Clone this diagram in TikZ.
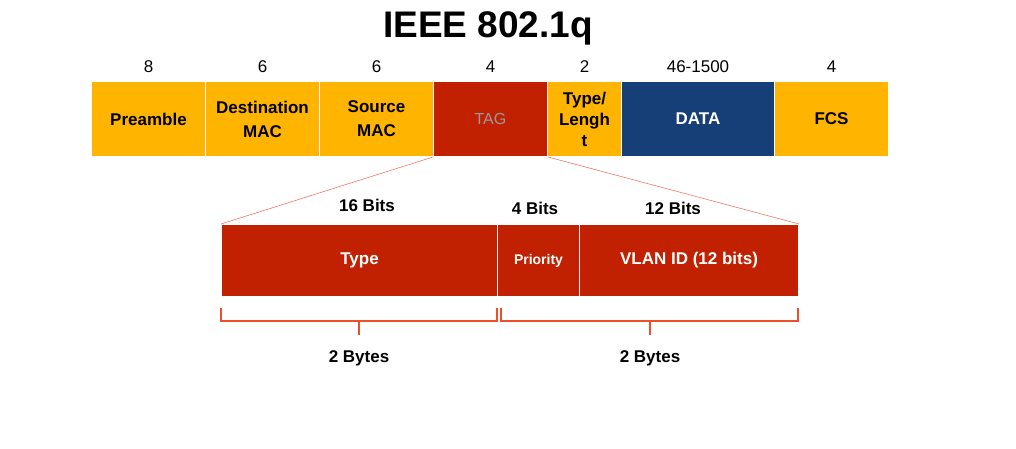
\documentclass[tikz,border=0pt]{standalone}
\usepackage{fontspec}
\setmainfont{Liberation Sans}
\definecolor{amber}{RGB}{255,181,0}
\definecolor{tagred}{RGB}{193,33,0}
\definecolor{navy}{RGB}{22,63,120}
\definecolor{bracered}{RGB}{238,78,40}
\definecolor{zoomline}{RGB}{238,120,110}
\begin{document}
\begin{tikzpicture}[x=1pt,y=-1pt,
  field/.style={draw=white,line width=1pt,minimum height=75pt,inner sep=0pt,align=center,
    font=\bfseries\fontsize{17}{21}\selectfont,anchor=north west},
  subfield/.style={draw=white,line width=1pt,minimum height=72pt,inner sep=0pt,align=center,
    fill=tagred,text=white,font=\bfseries\fontsize{17}{17}\selectfont,anchor=north west},
  size/.style={font=\fontsize{17}{17}\selectfont},
  bits/.style={font=\bfseries\fontsize{17}{17}\selectfont},
  brace/.style={draw=bracered,line width=1.4pt},
  zoom/.style={draw=zoomline,line width=0.6pt}]
\useasboundingbox (0,0) rectangle (1016,449);
\fill[white] (0,0) rectangle (1016,449);

% title
\node (title) at (488,28) {\bfseries\fontsize{37}{37}\selectfont IEEE 802.1q};

% Ethernet frame fields
\node[field,fill=amber,minimum width=114pt] (pre) at (91,81) {Preamble};
\node[field,fill=amber,minimum width=114pt] (dst) at (205,81) {Destination\\[3pt]MAC};
\node[field,fill=amber,minimum width=114pt] (src) at (319,81) {Source\\[3pt]MAC};
\node[field,fill=tagred,minimum width=114pt,text=black!40,font=\fontsize{16}{16}\selectfont] (tag) at (433,81) {TAG};
\node[field,fill=amber,minimum width=74pt] (len) at (547,81) {Type/\\Lengh\\t};
\node[field,fill=navy,minimum width=153pt,text=white] (data) at (621,81) {DATA};
\node[field,fill=amber,minimum width=114pt] (fcs) at (774,81) {FCS};

% field sizes in bytes
\node[size] (s1) at (pre.north |- 0,67) {8};
\node[size] (s2) at (dst.north |- 0,67) {6};
\node[size] (s3) at (src.north |- 0,67) {6};
\node[size] (s4) at (tag.north |- 0,67) {4};
\node[size] (s5) at (len.north |- 0,67) {2};
\node[size] (s6) at (data.north |- 0,67) {46-1500};
\node[size] (s7) at (fcs.north |- 0,67) {4};

% tag contents
\node[subfield,minimum width=276pt] (type) at (221,224) {Type};
\node[subfield,minimum width=82pt,font=\bfseries\fontsize{14}{14}\selectfont] (prio) at (497,224) {Priority};
\node[subfield,minimum width=219pt] (vlan) at (579,224) {VLAN ID (12 bits)};

% widths in bits
\node[bits] (b1) at (367,205) {16 Bits};
\node[bits] (b2) at (535,208) {4 Bits};
\node[bits] (b3) at (673,208) {12 Bits};

% expansion lines from the tag
\draw[zoom] (tag.south west) -- (type.north west);
\draw[zoom] (tag.south east) -- (vlan.north east);

% byte braces
\coordinate (l1) at (221,308);
\coordinate (l2) at (497,308);
\coordinate (r1) at (501,308);
\coordinate (r2) at (798,308);
\draw[brace] (l1) -- ++(0,13) -| (l2);
\draw[brace] (r1) -- ++(0,13) -| (r2);
\draw[brace] (359,321) -- (359,335);
\draw[brace] (650,321) -- (650,335);
\node[bits] (by1) at (359,358) {2 Bytes};
\node[bits] (by2) at (650,358) {2 Bytes};
\end{tikzpicture}
\end{document}
